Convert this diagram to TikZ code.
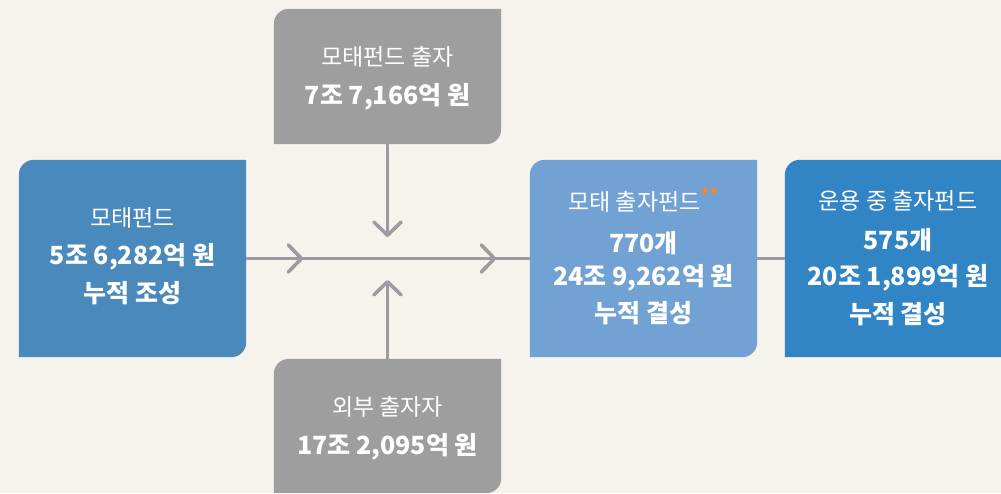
\documentclass[tikz,border=0pt]{standalone}
\usepackage{fontspec}
\newfontfamily\kr{Noto Sans CJK KR}
\usetikzlibrary{arrows.meta,backgrounds,decorations.markings}
\definecolor{bgc}{RGB}{245,243,236}
\definecolor{leftc}{RGB}{74,137,188}
\definecolor{grayc}{RGB}{158,158,158}
\definecolor{midc}{RGB}{114,162,211}
\definecolor{rightc}{RGB}{50,133,196}
\definecolor{linec}{RGB}{155,155,160}
\definecolor{orng}{RGB}{240,135,50}
\newcommand\rbox[2]{\fill[#2] (#1.west) [rounded corners=15pt] -- (#1.north west) -- (#1.north) [sharp corners] -- (#1.north east) -- (#1.east) [rounded corners=15pt] -- (#1.south east) -- (#1.south) [sharp corners] -- (#1.south west) -- cycle;}
\begin{document}
\begin{tikzpicture}[x=1pt,y=-1pt,
  boxn/.style={inner sep=0pt, minimum width=227pt},
  txt/.style={inner sep=0pt, text=white, font=\kr\fontsize{23}{23}\selectfont},
  btxt/.style={inner sep=0pt, text=white, font=\kr\bfseries\fontsize{25}{25}\selectfont},
  conn/.style={draw=linec, line width=2.6pt},
  chev/.tip={Straight Barb[length=13pt, width=27pt, line width=3.6pt, round]}
]
\useasboundingbox (0,0) rectangle (1001,493);
% boxes
\node[boxn, minimum height=197pt] (L) at (132.5,258.5) {};
\node[boxn, minimum height=135pt] (T) at (387.5,76.5) {};
\node[boxn, minimum height=134pt] (B) at (387.5,426) {};
\node[boxn, minimum height=197pt] (M) at (643.5,258.5) {};
\node[inner sep=0pt, minimum width=216pt, minimum height=197pt] (R) at (893,258.5) {};
\begin{scope}[on background layer]
  \fill[bgc] (0,0) rectangle (1001,493);
  \rbox{L}{leftc}
  \rbox{T}{grayc}
  \rbox{B}{grayc}
  \rbox{M}{midc}
  \fill[rightc] (R.west) [rounded corners=15pt] -- (R.north west) -- (R.north) [sharp corners] -- (R.north east) -- (R.south east) -- (R.south west) -- cycle;
\end{scope}
% texts
\node[txt]  (L1) at (132.5,218) {모태펀드};
\node[btxt] (L2) at (132.5,257) {5조 6,282억 원};
\node[btxt] (L3) at (132.5,293) {누적 조성};
\node[txt]  (T1) at (387.5,57) {모태펀드 출자};
\node[btxt] (T2) at (387.5,97) {7조 7,166억 원};
\node[txt]  (B1) at (387.5,407) {외부 출자자};
\node[btxt] (B2) at (387.5,447) {17조 2,095억 원};
\node[txt]  (M1) at (643.5,200) {모태 출자펀드\raisebox{9pt}{\fontsize{17}{17}\selectfont\bfseries\color{orng}**}};
\node[btxt] (M2) at (643.5,243) {770개};
\node[btxt] (M3) at (643.5,278) {24조 9,262억 원};
\node[btxt] (M4) at (643.5,313) {누적 결성};
\node[txt]  (R1) at (898,201) {운용 중 출자펀드};
\node[btxt] (R2) at (898,240) {575개};
\node[btxt] (R3) at (898,278) {20조 1,899억 원};
\node[btxt] (R4) at (898,314) {누적 결성};
% connectors
\coordinate (vt) at (387.5,237);
\coordinate (vb) at (387.5,280);
\path[conn, postaction={decorate}, decoration={markings,
   mark=at position 57pt with {\arrow{chev}},
   mark=at position 250pt with {\arrow{chev}}}] (L.east) -- (M.west);
\draw[conn] (M.east) -- (R.west);
\draw[conn, -{chev}] (T.south) -- (vt);
\draw[conn, -{chev}] (B.north) -- (vb);
\end{tikzpicture}
\end{document}
